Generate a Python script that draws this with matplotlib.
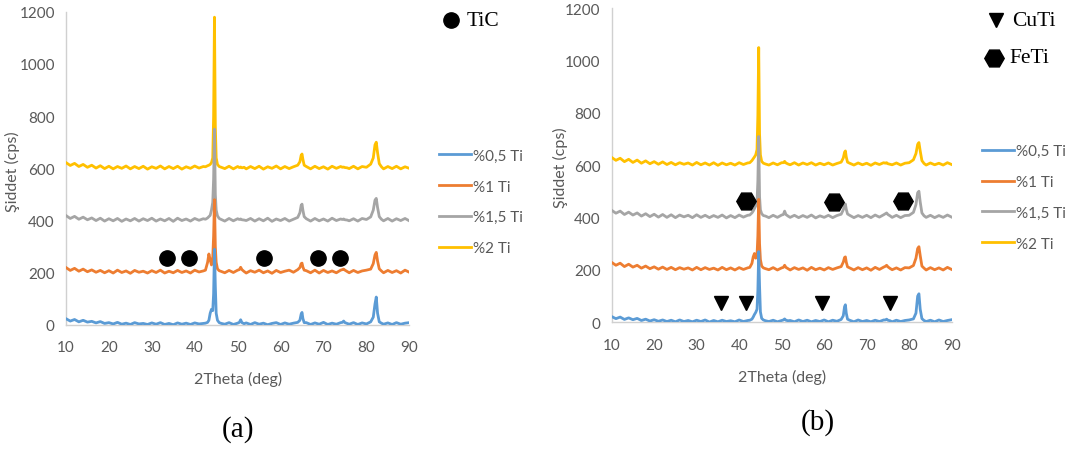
import matplotlib
matplotlib.use("Agg")
import matplotlib.pyplot as plt
import numpy as np

# 2theta sampling points shared by every pattern
two_theta = ([10, 11, 12, 13, 14, 15, 16, 17, 18, 19, 20, 21, 22, 23, 24, 25, 26,
              27, 28, 29, 30, 31, 32, 33, 34, 35, 36, 37, 38, 39, 40, 41, 42]
             + [42.5, 43.0, 43.3, 43.6, 43.9, 44.2, 44.4, 44.6, 44.8, 45.0, 45.3, 45.7, 46.2]
             + [47, 48, 49, 50]
             + [50.4, 50.7, 51.0, 51.5]
             + [52, 53, 54, 55, 56, 57, 58, 59, 60, 61, 62, 63, 64]
             + [64.5, 64.8, 65.0, 65.2, 65.5]
             + [66, 67, 68, 69, 70, 71, 72, 73, 74]
             + [74.4, 74.7, 75.0, 75.5]
             + [76, 77, 78, 79, 80, 81]
             + [81.6, 82.0, 82.3, 82.6, 83.0, 83.5]
             + [84, 85, 86, 87, 88, 89, 90])

labels = ['%0,5 Ti', '%1 Ti', '%1,5 Ti', '%2 Ti']
colors = ['#5B9BD5', '#ED7D31', '#A5A5A5', '#FFC000']

# ---- panel (a) ----
a_05 = ([24, 15, 21, 12, 18, 11, 14, 8, 13, 6, 9, 4, 10, 3, 7, 2, 9, 4, 6, 2, 8, 3, 9, 2, 6,
         1, 8, 3, 7, 2, 8, 4, 6]
        + [7, 10, 18, 45, 60, 55, 120, 290, 150, 45, 18, 9, 6]
        + [3, 9, 2, 7]
        + [10, 20, 9, 5]
        + [8, 2, 9, 3, 7, 1, 6, 9, 2, 8, 3, 7, 10]
        + [18, 42, 48, 25, 9]
        + [9, 2, 8, 3, 10, 2, 7, 3, 9]
        + [10, 15, 9, 6]
        + [3, 9, 2, 8, 4, 12]
        + [30, 80, 107, 45, 12, 7]
        + [3, 8, 2, 9, 3, 7, 9])
a_1 = ([220, 209, 217, 206, 214, 204, 211, 202, 209, 200, 208, 199, 210, 201, 207, 198, 209,
        202, 206, 199, 208, 201, 210, 199, 206, 200, 209, 201, 207, 199, 210, 203, 207]
       + [210, 240, 272, 250, 230, 260, 340, 480, 300, 240, 215, 208, 205]
       + [200, 209, 201, 210]
       + [212, 221, 212, 205]
       + [199, 208, 202, 210, 200, 207, 198, 209, 201, 206, 210, 202, 212]
       + [220, 235, 237, 222, 210]
       + [208, 200, 210, 199, 209, 201, 207, 200, 210]
       + [212, 214, 210, 205]
       + [200, 209, 201, 207, 210, 214]
       + [235, 268, 278, 245, 215, 207]
       + [200, 209, 201, 208, 199, 210, 202])
a_15 = ([419, 408, 416, 405, 413, 403, 410, 400, 409, 398, 407, 399, 408, 397, 406, 399, 408,
         398, 407, 400, 409, 398, 406, 399, 408, 397, 409, 400, 406, 398, 408, 401, 407]
        + [405, 410, 415, 420, 440, 470, 560, 750, 500, 440, 418, 408, 404]
        + [398, 408, 399, 407]
        + [404, 406, 403, 402]
        + [400, 408, 398, 407, 399, 409, 397, 406, 400, 408, 398, 405, 412]
        + [430, 458, 463, 440, 415]
        + [407, 398, 408, 399, 406, 398, 409, 400, 406]
        + [404, 406, 403, 402]
        + [399, 407, 398, 408, 404, 414]
        + [440, 478, 485, 450, 415, 405]
        + [399, 408, 398, 407, 400, 408, 399])
a_2 = ([622, 611, 619, 607, 615, 604, 612, 601, 610, 599, 608, 598, 607, 600, 609, 598, 607,
        599, 608, 597, 606, 600, 609, 598, 607, 599, 608, 597, 606, 600, 609, 601, 607]
       + [606, 610, 612, 615, 622, 640, 800, 1179, 760, 640, 615, 607, 604]
       + [599, 608, 598, 607]
       + [603, 605, 602, 604]
       + [598, 607, 599, 608, 597, 606, 600, 609, 598, 607, 599, 606, 612]
       + [625, 650, 655, 635, 612]
       + [607, 598, 608, 599, 606, 597, 608, 600, 607]
       + [604, 605, 603, 602]
       + [599, 608, 598, 607, 604, 616]
       + [640, 690, 700, 660, 618, 606]
       + [598, 607, 599, 608, 598, 606, 600])

# ---- panel (b) ----
b_05 = ([22, 14, 20, 11, 17, 10, 15, 7, 12, 5, 10, 4, 9, 3, 8, 2, 9, 3, 7, 2, 8, 3, 9, 1, 7,
         2, 8, 3, 6, 2, 9, 3, 7]
        + [8, 12, 20, 30, 38, 50, 120, 270, 140, 40, 15, 9, 6]
        + [3, 8, 2, 7]
        + [9, 13, 8, 6]
        + [7, 2, 9, 3, 8, 2, 7, 3, 9, 2, 8, 4, 11]
        + [25, 60, 67, 35, 12]
        + [8, 2, 9, 3, 7, 2, 8, 3, 9]
        + [9, 12, 8, 6]
        + [2, 8, 3, 7, 9, 13]
        + [35, 100, 109, 50, 14, 7]
        + [3, 8, 2, 9, 3, 7, 10])
b_1 = ([229, 218, 226, 213, 222, 211, 218, 207, 215, 205, 212, 203, 211, 202, 210, 201, 209,
        203, 208, 200, 210, 201, 209, 202, 207, 200, 210, 201, 208, 200, 209, 202, 208]
       + [210, 225, 250, 263, 245, 255, 330, 470, 300, 240, 215, 208, 205]
       + [201, 209, 200, 208]
       + [210, 218, 210, 205]
       + [200, 209, 202, 208, 199, 210, 201, 207, 200, 209, 202, 208, 213]
       + [230, 248, 250, 230, 212]
       + [208, 200, 209, 201, 208, 199, 210, 202, 211]
       + [214, 218, 212, 206]
       + [201, 208, 200, 209, 208, 217]
       + [245, 282, 289, 255, 215, 207]
       + [200, 209, 201, 208, 200, 210, 202])
b_15 = ([428, 417, 425, 412, 421, 410, 418, 406, 415, 404, 413, 402, 412, 401, 411, 400, 410,
         403, 409, 400, 411, 401, 409, 400, 408, 401, 410, 399, 408, 400, 410, 402, 409]
        + [410, 418, 425, 435, 445, 460, 540, 710, 480, 430, 415, 408, 406]
        + [400, 409, 401, 410]
        + [412, 425, 412, 406]
        + [401, 409, 400, 408, 401, 410, 399, 407, 401, 409, 400, 408, 413]
        + [430, 448, 452, 432, 414]
        + [409, 400, 408, 401, 409, 400, 410, 402, 411]
        + [415, 418, 412, 407]
        + [401, 409, 400, 408, 409, 420]
        + [450, 495, 501, 460, 418, 407]
        + [401, 409, 400, 408, 401, 410, 402])
b_2 = ([630, 619, 627, 614, 623, 611, 620, 608, 617, 606, 614, 604, 613, 603, 611, 602, 610,
        604, 609, 601, 611, 602, 609, 601, 610, 600, 609, 602, 608, 601, 610, 603, 609]
       + [610, 618, 625, 632, 640, 660, 790, 1050, 720, 640, 615, 608, 605]
       + [601, 609, 602, 610]
       + [610, 615, 609, 605]
       + [602, 610, 601, 609, 603, 610, 601, 608, 602, 609, 601, 607, 612]
       + [628, 650, 655, 632, 612]
       + [608, 601, 609, 602, 608, 600, 609, 603, 610]
       + [608, 610, 606, 604]
       + [602, 609, 601, 608, 610, 621]
       + [645, 680, 687, 655, 618, 607]
       + [601, 609, 602, 608, 601, 610, 603])

# phase marks
tic_x = [33.6, 38.6, 56.1, 68.7, 73.9]
tic_y = [258, 258, 255, 255, 258]
cuti_x = [35.7, 41.7, 59.4, 75.6]
cuti_y = [75, 75, 72, 72]
feti_x = [41.5, 62.3, 78.6]
feti_y = [462, 460, 462]

SANS = ['Lato', 'DejaVu Sans']
SERIF = ['Liberation Serif', 'DejaVu Serif']
TXT = '#595959'


def draw_panel(ax, series, leg_x, leg_y, ylab_xy, xlab_xy):
    x = np.array(two_theta)
    for i, y in enumerate(series):
        ax.plot(x, y, color=colors[i], lw=2.0, label=labels[i], zorder=6 - i,
                solid_joinstyle='round')
    ax.set_xlim(10, 90)
    ax.set_ylim(0, 1200)
    ax.set_xticks(range(10, 91, 10))
    ax.set_yticks(range(0, 1201, 200))
    for s in ['top', 'right']:
        ax.spines[s].set_visible(False)
    for s in ['left', 'bottom']:
        ax.spines[s].set_color('#d0d0d0')
        ax.spines[s].set_linewidth(1.0)
    ax.tick_params(axis='x', length=0, labelsize=11, labelcolor=TXT, pad=11)
    ax.tick_params(axis='y', length=0, labelsize=11, labelcolor=TXT, pad=8)
    for t in ax.get_xticklabels() + ax.get_yticklabels():
        t.set_family(SANS)
    ax.set_xlabel('2Theta (deg)', family=SANS, fontsize=11.5, color=TXT)
    ax.set_ylabel('Şiddet (cps)', family=SANS, fontsize=11.5, color=TXT)
    ax.yaxis.set_label_coords(*ylab_xy)
    ax.xaxis.set_label_coords(*xlab_xy)
    ax.xaxis.label.set_va('center')
    ax.yaxis.label.set_va('center')
    leg = ax.legend(loc='center left', bbox_to_anchor=(leg_x, leg_y),
                    bbox_transform=fig.transFigure, frameon=False,
                    borderpad=0, borderaxespad=0,
                    handlelength=2.1, handletextpad=0.12, labelspacing=1.1,
                    prop={'family': SANS, 'size': 11})
    for t in leg.get_texts():
        t.set_color(TXT)


def key(marker, ms, mx, my, text):
    fig.add_artist(plt.Line2D([mx], [my], marker=marker, ms=ms, color='black',
                              ls='', transform=fig.transFigure))
    fig.text(mx + 0.0145, my, text, ha='left', va='center', family=SERIF, fontsize=15.5)


fig = plt.figure(figsize=(10.78, 4.52), dpi=100)

ax1 = fig.add_axes([0.0612, 0.2788, 0.3185, 0.6931])
draw_panel(ax1, [a_05, a_1, a_15, a_2], 0.407, 0.551, (-0.1545, 0.4915), (0.501, -0.172))
ax1.plot(tic_x, tic_y, 'o', color='black', ms=11, zorder=10, clip_on=False)
key('o', 11, 0.4184, 0.9535, 'TiC')

ax2 = fig.add_axes([0.5674, 0.2847, 0.3154, 0.6947])
draw_panel(ax2, [b_05, b_1, b_15, b_2], 0.911, 0.561, (-0.152, 0.4946), (0.501, -0.171))
ax2.plot(cuti_x, cuti_y, 'v', color='black', ms=10, zorder=10)
ax2.plot(feti_x, feti_y, 'H', color='black', ms=14, zorder=10)
key('v', 10, 0.924, 0.9535, 'CuTi')
key('H', 14, 0.9221, 0.8695, 'FeTi')

fig.text(0.2208, 0.049, '(a)', ha='center', va='center', family=SERIF, fontsize=21)
fig.text(0.7588, 0.066, '(b)', ha='center', va='center', family=SERIF, fontsize=21)

fig.savefig('out.png', dpi=100)
